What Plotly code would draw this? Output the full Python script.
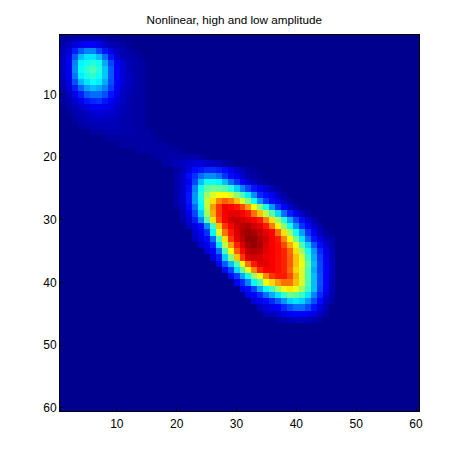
import plotly.graph_objects as go

title_text = "Nonlinear, high and low amplitude"
tick_values = [10, 20, 30, 40, 50, 60]
n_cells = 60

# Values, percent of the colour range.
# row number: (first column, values from that column on). Everything else is background.
upper_blob_rows = {
    1: (1, [1, 2, 3, 3, 3, 3, 3, 2, 1, 1]),
    2: (1, [3, 5, 7, 9, 11, 11, 9, 6, 4, 3, 2, 1]),
    3: (1, [4, 7, 14, 20, 24, 24, 18, 13, 8, 5, 3, 2, 1]),
    4: (1, [5, 9, 20, 30, 34, 34, 30, 22, 13, 7, 4, 3, 2, 1]),
    5: (1, [5, 10, 24, 36, 38, 40, 38, 28, 18, 10, 6, 4, 3, 2, 1]),
    6: (1, [5, 10, 25, 37, 41, 44, 40, 31, 20, 11, 7, 4, 3, 2, 1]),
    7: (1, [5, 10, 23, 35, 39, 41, 38, 31, 20, 11, 7, 5, 3, 2, 1]),
    8: (1, [4, 8, 19, 29, 34, 37, 35, 28, 19, 11, 7, 5, 3, 2, 1]),
    9: (1, [3, 7, 14, 21, 27, 30, 28, 24, 17, 10, 6, 4, 3, 2, 1]),
    10: (1, [2, 5, 9, 14, 20, 22, 22, 19, 13, 9, 5, 4, 3, 2, 1]),
    11: (1, [2, 3, 6, 9, 13, 15, 16, 13, 10, 7, 5, 3, 2, 2, 1]),
    12: (2, [2, 4, 6, 8, 10, 10, 9, 8, 6, 4, 3, 2, 2, 1]),
    13: (2, [1, 3, 4, 5, 6, 7, 7, 6, 5, 4, 3, 2, 2, 1]),
    14: (3, [2, 3, 4, 5, 5, 5, 5, 4, 3, 3, 2, 2, 1]),
    15: (4, [2, 3, 3, 4, 4, 4, 4, 3, 3, 2, 2, 1]),
    16: (6, [2, 2, 3, 3, 3, 3, 3, 3, 2, 2, 1]),
    17: (8, [1, 2, 2, 2, 2, 2, 2, 2, 2, 1]),
    18: (10, [1, 2, 2, 2, 2, 2, 2, 2, 2, 1]),
    19: (13, [1, 2, 2, 2, 2, 2, 2, 2, 1]),
    20: (16, [1, 2, 2, 3, 3, 3, 3, 3, 2, 1]),
    21: (18, [2, 3, 4, 5, 6, 7, 7, 6, 5, 4, 2, 1]),
}
main_blob_rows = {
    22: (20, [2, 4, 8, 12, 13, 15, 15, 14, 12, 9, 6, 4, 2, 1]),
    23: (20, [3, 6, 12, 16, 22, 25, 25, 22, 16, 12, 9, 6, 3, 2, 1]),
    24: (20, [3, 6, 10, 18, 30, 38, 38, 36, 30, 22, 16, 11, 7, 4, 2, 1]),
    25: (20, [3, 6, 12, 24, 38, 46, 48, 47, 45, 40, 32, 24, 18, 13, 10, 7, 4, 2]),
    26: (20, [3, 6, 13, 26, 40, 52, 58, 62, 62, 58, 50, 44, 35, 25, 15, 12, 9, 5, 2]),
    27: (20, [3, 6, 13, 26, 38, 56, 65, 74, 78, 75, 68, 58, 50, 38, 26, 17, 12, 9, 5, 2]),
    28: (20, [2, 5, 12, 22, 36, 55, 72, 82, 89, 87, 85, 80, 72, 62, 50, 38, 26, 16, 11, 6, 2]),
    29: (21, [4, 9, 18, 32, 52, 70, 82, 88, 90, 90, 88, 85, 76, 68, 55, 45, 33, 22, 14, 9, 5, 2]),
    30: (21, [3, 7, 14, 25, 45, 65, 80, 88, 92, 93, 92, 90, 88, 85, 75, 65, 52, 40, 28, 18, 12, 7, 3]),
    31: (22, [5, 8, 12, 25, 43, 68, 82, 88, 92, 94, 95, 92, 90, 85, 75, 63, 50, 38, 26, 16, 11, 6, 3]),
    32: (23, [6, 10, 16, 36, 58, 76, 85, 91, 95, 97, 96, 93, 90, 87, 77, 65, 52, 38, 27, 16, 10, 5, 2]),
    33: (23, [5, 8, 12, 22, 44, 65, 82, 90, 94, 98, 98, 95, 92, 88, 85, 74, 63, 48, 34, 22, 13, 8, 4, 2]),
    34: (24, [6, 9, 15, 34, 55, 72, 84, 91, 96, 98, 96, 91, 88, 86, 80, 70, 60, 44, 32, 20, 12, 7, 3]),
    35: (25, [7, 11, 22, 44, 62, 78, 87, 94, 95, 94, 90, 88, 86, 84, 77, 65, 52, 38, 26, 15, 9, 4]),
    36: (26, [8, 14, 32, 50, 68, 82, 91, 92, 91, 89, 88, 86, 84, 78, 68, 58, 42, 28, 17, 10, 4]),
    37: (27, [10, 20, 30, 44, 62, 76, 85, 90, 90, 88, 86, 84, 78, 68, 60, 46, 30, 18, 10, 5]),
    38: (28, [12, 18, 33, 46, 60, 74, 84, 88, 88, 86, 84, 77, 66, 58, 44, 28, 18, 11, 5]),
    39: (29, [12, 17, 28, 38, 52, 63, 74, 82, 85, 85, 80, 70, 58, 44, 30, 19, 11, 5]),
    40: (30, [11, 15, 24, 36, 44, 60, 66, 72, 76, 76, 68, 58, 44, 30, 19, 11, 4]),
    41: (31, [10, 12, 18, 28, 36, 43, 52, 60, 64, 60, 52, 42, 30, 18, 10, 4]),
    42: (32, [9, 11, 15, 22, 28, 34, 42, 47, 46, 42, 34, 24, 15, 8, 3]),
    43: (33, [7, 9, 12, 15, 20, 26, 32, 34, 32, 26, 19, 12, 6, 2]),
    44: (34, [5, 7, 9, 11, 15, 19, 22, 22, 18, 13, 8, 4]),
    45: (35, [4, 5, 6, 8, 10, 11, 11, 10, 8, 5, 2]),
    46: (37, [2, 3, 4, 5, 5, 4, 3, 2]),
}

jet_stops = [
    [0.0, "rgb(0,0,143)"], [0.111, "rgb(0,0,255)"], [0.365, "rgb(0,255,255)"],
    [0.619, "rgb(255,255,0)"], [0.873, "rgb(255,0,0)"], [1.0, "rgb(128,0,0)"],
]

z = [[0] * n_cells for _ in range(n_cells)]
for rows in (upper_blob_rows, main_blob_rows):
    for row, (first, values) in rows.items():
        for i, v in enumerate(values):
            z[row - 1][first - 1 + i] = v

axis_style = dict(
    range=[0.5, 60.5], tickmode="array", tickvals=tick_values,
    ticks="inside", ticklen=3, tickwidth=1, tickcolor="#000",
    showline=True, linecolor="#000", linewidth=1, mirror=True,
    showgrid=False, zeroline=False,
    tickfont=dict(family="Liberation Sans", size=12, color="#000"),
)

fig = go.Figure(go.Heatmap(
    x=list(range(1, n_cells + 1)), y=list(range(1, n_cells + 1)), z=z,
    zmin=0, zmax=100, colorscale=jet_stops, showscale=False,
))
fig.update_layout(
    width=447, height=447, paper_bgcolor="#fff", plot_bgcolor="#fff",
    margin=dict(l=52, r=36, t=27, b=44, autoexpand=False),
    title=dict(text=title_text, x=0.506, xanchor="center", y=0.973, yanchor="middle",
               font=dict(family="Liberation Sans", size=11.7, color="#000")),
    xaxis=dict(axis_style, ticklabelstandoff=2),
    yaxis=dict(axis_style, range=[60.5, 0.5]),
)
fig.write_html("out.html", config={"displayModeBar": False})
